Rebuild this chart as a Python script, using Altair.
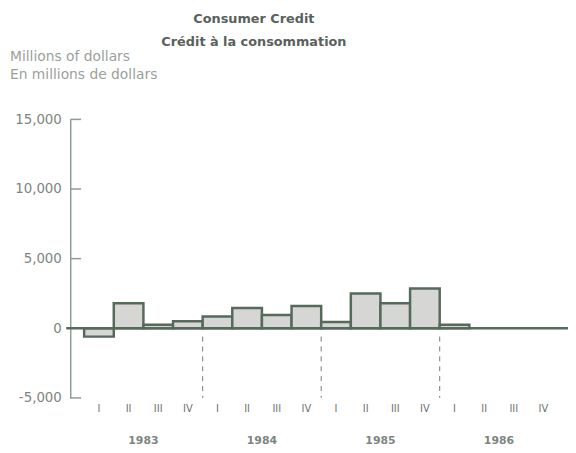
import altair as alt
import pandas as pd

# ---- data ----
quarters = ["I", "II", "III", "IV"] * 4
years = ["1983", "1984", "1985", "1986"]
values = [-600, 1800, 250, 500,
          850, 1450, 950, 1600,
          450, 2500, 1800, 2850,
          250]
y_ticks = [-5000, 0, 5000, 10000, 15000]
title_lines = ["Consumer Credit", "Crédit à la consommation"]
unit_lines = ["Millions of dollars", "En millions de dollars"]

W, H = 504, 282
BAR_STROKE = "#566a5c"
AXIS_COL = "#8e9c92"
TEXT_COL = "#7d857f"

bars_df = pd.DataFrame({
    "i": list(range(len(values))),
    "i2": [k + 1 for k in range(len(values))],
    "v": values,
    "zero": [0] * len(values),
})
qlab_df = pd.DataFrame({"pos": [k + 0.5 for k in range(16)], "lab": quarters})
ylab_df = pd.DataFrame({"pos": [4 * k + 2 for k in range(4)], "lab": years})
sep_df = pd.DataFrame({"pos": [4, 8, 12], "top": [-600] * 3, "bot": [-5000] * 3})
tick_df = pd.DataFrame({"t": [t for t in y_ticks if t != 0]})
zero_df = pd.DataFrame({"z": [0]})

xs = alt.Scale(domain=[-0.47, 16.33], nice=False, zero=False)
ys = alt.Scale(domain=[-5000, 15000], nice=False)
yaxis = alt.Axis(
    values=y_ticks, format=",.0f", ticks=False, domain=True,
    labelExpr="replace(datum.label, '\u2212', '-')",
    domainColor=AXIS_COL, domainWidth=1.5, grid=False, title=None,
    labelColor=TEXT_COL, labelFontSize=13.5, labelPadding=9,
    labelFont="DejaVu Sans")

bars = alt.Chart(bars_df).mark_rect(
    fill="#d6d7d4", stroke=BAR_STROKE, strokeWidth=2.5
).encode(
    x=alt.X("i:Q", scale=xs, axis=None),
    x2="i2:Q",
    y=alt.Y("v:Q", scale=ys, axis=yaxis),
    y2="zero:Q",
)

zero_line = alt.Chart(zero_df).mark_rule(color=BAR_STROKE, strokeWidth=2.5).encode(
    y=alt.Y("z:Q", scale=ys, axis=yaxis), x=alt.value(-4), x2=alt.value(W)
)

ticks = alt.Chart(tick_df).mark_rule(color=AXIS_COL, strokeWidth=1.5).encode(
    y=alt.Y("t:Q", scale=ys, axis=yaxis), x=alt.value(0), x2=alt.value(11)
)

seps = alt.Chart(sep_df).mark_rule(color="#777", strokeWidth=1, strokeDash=[5, 5]).encode(
    x=alt.X("pos:Q", scale=xs, axis=None),
    y=alt.Y("top:Q", scale=ys, axis=yaxis), y2="bot:Q"
)

qtext = alt.Chart(qlab_df).mark_text(
    font="DejaVu Sans", fontSize=10, color="#6a716c", baseline="middle"
).encode(x=alt.X("pos:Q", scale=xs, axis=None), y=alt.value(293), text="lab:N")

ytext = alt.Chart(ylab_df).mark_text(
    font="DejaVu Sans", fontSize=11, fontWeight="bold", color=TEXT_COL, baseline="middle"
).encode(x=alt.X("pos:Q", scale=xs, axis=None), y=alt.value(326), text="lab:N")

def label(s, x, y, size, weight, color, align):
    return alt.Chart(pd.DataFrame({"s": [s]})).mark_text(
        font="DejaVu Sans", fontSize=size, fontWeight=weight, color=color,
        baseline="middle", align=align
    ).encode(x=alt.value(x), y=alt.value(y), text="s:N")

t1 = label(title_lines[0], 257 - 71, 16 - 118, 13, "bold", "#5a615c", "center")
t2 = label(title_lines[1], 257 - 71, 40 - 118, 13, "bold", "#5a615c", "center")
u1 = label(unit_lines[0], 10 - 71, 55 - 118, 14, "normal", "#9a9f9b", "left")
u2 = label(unit_lines[1], 10 - 71, 73 - 118, 14, "normal", "#9a9f9b", "left")

chart = alt.layer(bars, zero_line, ticks, seps, qtext, ytext, t1, t2, u1, u2).properties(
    width=W, height=H,
    background="white",
    autosize=alt.AutoSizeParams(type="none"),
    padding={"left": 63, "top": 110, "right": 0, "bottom": 52},
).configure_view(stroke=None).configure_axis(grid=False)

chart.save("out.html", embed_options={"renderer": "svg", "actions": False})
